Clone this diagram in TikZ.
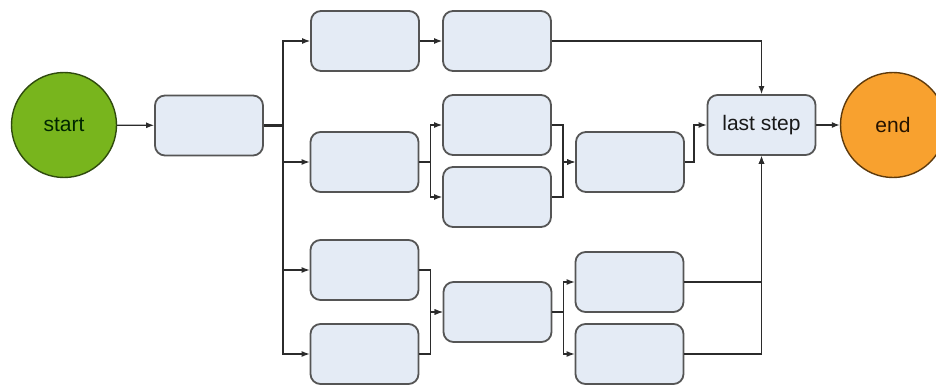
\documentclass[tikz,border=0pt]{standalone}
\usepackage{fontspec}
\setmainfont{Liberation Sans}
\usetikzlibrary{arrows.meta}
\definecolor{boxfill}{HTML}{E4EBF5}
\definecolor{boxline}{HTML}{555555}
\definecolor{startfill}{HTML}{78B51D}
\definecolor{startline}{HTML}{2F4A0E}
\definecolor{endfill}{HTML}{F8A12F}
\definecolor{endline}{HTML}{5E3A0C}
\definecolor{conn}{HTML}{2B2B2B}
\begin{document}
\begin{tikzpicture}[x=1pt,y=-1pt,
  stepbox/.style={draw=boxline, fill=boxfill, line width=1.8pt, rounded corners=10pt,
    minimum width=108pt, minimum height=60pt, inner sep=0pt,
    font=\fontsize{21}{24}\selectfont, text=black!90},
  roundnode/.style={circle, line width=1.4pt, minimum size=105pt, inner sep=0pt,
    font=\fontsize{21}{24}\selectfont},
  arr/.style={draw=conn, line width=1.2pt, -{Latex[length=8pt,width=6pt]}}]
\fill[white] (0,0) rectangle (936,385);
\useasboundingbox (0,0) rectangle (936,385);
% nodes
\node[roundnode, draw=startline, fill=startfill, text=black!85!green] (start) at (64,125) {start};
\node[stepbox] (b1) at (209,125.5) {};
\node[stepbox] (A) at (365,41) {};
\node[stepbox] (B) at (497,41) {};
\node[stepbox] (C) at (364.5,162) {};
\node[stepbox] (D) at (497,125) {};
\node[stepbox] (E) at (497,197) {};
\node[stepbox] (F) at (630,162) {};
\node[stepbox] (L) at (761.5,125) {last step};
\node[roundnode, draw=endline, fill=endfill, text=black!85!orange] (end) at (893,125) {end};
\node[stepbox] (G) at (364.5,270) {};
\node[stepbox] (H) at (364.5,354) {};
\node[stepbox] (I) at (497.5,312) {};
\node[stepbox] (J) at (629.5,282) {};
\node[stepbox] (K) at (629.5,354) {};
% connectors
\draw[arr] (start) -- (b1);
\draw[arr] (b1.east) -- ++(19,0) |- (A);
\draw[arr] (b1.east) -- ++(19,0) |- (C);
\draw[arr] (b1.east) -- ++(19,0) |- (G);
\draw[arr] (b1.east) -- ++(19,0) |- (H);
\draw[draw=conn, line width=2.2pt] (b1.east) -- ++(19,0);
\draw[arr] (A) -- (B);
\draw[arr] (C.east) -- ++(11,0) |- (D);
\draw[arr] (C.east) -- ++(11,0) |- (E);
\draw[arr] (D.east) -- ++(11,0) |- (F);
\draw[arr] (E.east) -- ++(11,0) |- (F);
\draw[arr] (F.east) -- ++(9,0) |- (L);
\draw[arr] (B) -| (L);
\draw[arr] (G.east) -- ++(11,0) |- (I);
\draw[arr] (H.east) -- ++(11,0) |- (I);
\draw[arr] (I.east) -- ++(11,0) |- (J);
\draw[arr] (I.east) -- ++(11,0) |- (K);
\draw[arr] (J) -| (L);
\draw[arr] (K) -| (L);
\draw[arr] (L) -- (end);
\end{tikzpicture}
\end{document}
